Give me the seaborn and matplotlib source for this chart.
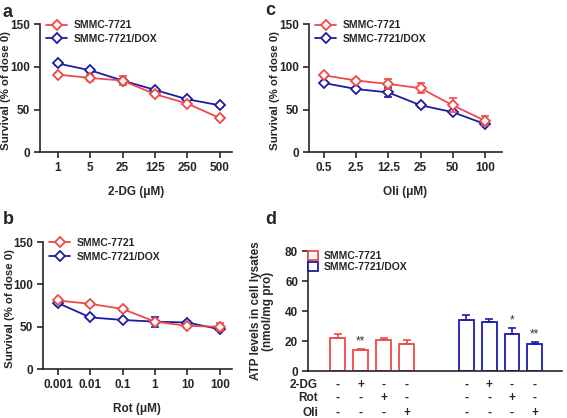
import numpy as np
import pandas as pd
import seaborn as sns
import matplotlib.pyplot as plt

sns.set_style('ticks')
plt.rcParams['font.family'] = ['Liberation Sans', 'DejaVu Sans']
plt.rcParams['font.weight'] = 'bold'
plt.rcParams['axes.linewidth'] = 1.2

RED = '#EE4A4A'
BLUE = '#1C1CA6'
series_names = ['SMMC-7721', 'SMMC-7721/DOX']

# panel a: 2-DG
dg_doses = ['1', '5', '25', '125', '250', '500']
dg_red = [91, 87, 84, 68, 57, 40]
dg_red_err = [2, 4, 5, 2, 2, 2]
dg_blue = [104, 96, 84, 73, 62, 55]
dg_blue_err = [1.5, 1.5, 2, 1.5, 1.5, 1.5]

# panel b: rotenone
rot_doses = ['0.001', '0.01', '0.1', '1', '10', '100']
rot_red = [81, 77, 71, 56, 51, 50]
rot_red_err = [2, 2, 2, 2, 2, 5]
rot_blue = [78, 61, 58, 56, 55, 47]
rot_blue_err = [2, 1.5, 1.5, 6, 2, 2]

# panel c: oligomycin
oli_doses = ['0.5', '2.5', '12.5', '25', '50', '100']
oli_red = [90, 84, 80, 75, 55, 37]
oli_red_err = [2, 2, 6, 6, 8, 5]
oli_blue = [81, 74, 70, 55, 47, 33]
oli_blue_err = [1.5, 1.5, 5, 1.5, 1.5, 1.5]

# panel d: ATP
atp_red = [22, 14, 21, 18]
atp_red_err = [2.5, 0.5, 0.7, 2.5]
atp_blue = [34, 33, 25, 18]
atp_blue_err = [3.5, 2, 4, 1.5]
atp_red_pos = [0, 1, 2, 3]
atp_blue_pos = [5.6, 6.6, 7.6, 8.6]
atp_stars_red = ['', '**', '', '']
atp_stars_blue = ['', '', '*', '**']
treat_rows = ['2-DG', 'Rot', 'Oli']
treat_signs = [['-', '+', '-', '-'], ['-', '-', '+', '-'], ['-', '-', '-', '+']]

fig = plt.figure(figsize=(5.67, 4.18), dpi=100)


def dose_panel(rect, doses, red, red_err, blue, blue_err, xlabel, xlim):
    ax = fig.add_axes(rect)
    idx = np.arange(len(doses))
    for vals, errs, col, name, z in [(red, red_err, RED, series_names[0], 3),
                                     (blue, blue_err, BLUE, series_names[1], 2)]:
        ax.errorbar(idx, vals, yerr=errs, fmt='none', ecolor=col, elinewidth=1.2,
                    capsize=3, capthick=1.2, zorder=z)
        sns.lineplot(x=idx, y=vals, ax=ax, color=col, marker='D', markersize=5.5,
                     markerfacecolor='white', markeredgecolor=col, markeredgewidth=1.3,
                     linewidth=1.3, label=name, zorder=z)
    ax.set_xticks(idx)
    ax.set_xticklabels(doses)
    ax.set_xlim(*xlim)
    ax.set_ylim(0, 150)
    ax.set_yticks([0, 50, 100, 150])
    ax.tick_params(labelsize=8.5, width=1.2, length=4, pad=3)
    ax.set_xlabel(xlabel, fontsize=8.5, fontweight='bold', labelpad=9)
    ax.set_ylabel('Survival (% of dose 0)', fontsize=8.2, fontweight='bold')
    ax.yaxis.set_label_coords(-0.15, 0.48)
    sns.despine(ax=ax)
    ax.legend(loc='upper left', bbox_to_anchor=(0.0, 1.08), frameon=False,
              handlelength=2.0, handletextpad=0.6, labelspacing=0.35, borderaxespad=0.2,
              prop={'weight': 'bold', 'size': 7.5})
    return ax


dose_panel([0.0705, 0.636, 0.338, 0.306], dg_doses, dg_red, dg_red_err, dg_blue,
           dg_blue_err, '2-DG (μM)', (-0.55, 5.37))
dose_panel([0.0758, 0.117, 0.333, 0.304], rot_doses, rot_red, rot_red_err, rot_blue,
           rot_blue_err, 'Rot (μM)', (-0.46, 5.37))
dose_panel([0.545, 0.636, 0.340, 0.306], oli_doses, oli_red, oli_red_err, oli_blue,
           oli_blue_err, 'Oli (μM)', (-0.47, 5.53))

# panel d
axd = fig.add_axes([0.543, 0.1124, 0.448, 0.2871])
bar_df = pd.DataFrame({
    'pos': atp_red_pos + atp_blue_pos,
    'atp': atp_red + atp_blue,
    'line': [series_names[0]] * 4 + [series_names[1]] * 4,
})
sns.barplot(data=bar_df, x='pos', y='atp', hue='line', palette=[RED, BLUE],
            native_scale=True, fill=False, width=0.65, errorbar=None, ax=axd,
            linewidth=1.3, dodge=False)
for pos, vals, errs, col, stars in [(atp_red_pos, atp_red, atp_red_err, RED, atp_stars_red),
                                    (atp_blue_pos, atp_blue, atp_blue_err, BLUE, atp_stars_blue)]:
    axd.errorbar(pos, vals, yerr=[np.zeros(len(errs)), errs], fmt='none', ecolor=col,
                 elinewidth=1.2, capsize=3, capthick=1.2)
    for p, v, e, s in zip(pos, vals, errs, stars):
        if s:
            axd.text(p, v + e + 1.0, s, ha='center', va='bottom', fontsize=8.5,
                     color='#333333', fontweight='normal')
axd.set_xlim(-1.31, 9.78)
axd.set_ylim(0, 80)
axd.set_yticks([0, 20, 40, 60, 80])
axd.set_xticks([])
axd.set_xlabel('')
axd.tick_params(labelsize=8.5, width=1.2, length=4, pad=3)
axd.set_ylabel('ATP levels in cell lysates\n(nmol/mg pro)', fontsize=8.5,
               fontweight='bold', linespacing=1.0)
axd.yaxis.set_label_coords(-0.135, 0.5)
sns.despine(ax=axd)
leg = axd.legend(loc='upper left', bbox_to_anchor=(-0.025, 1.05), frameon=False,
                 handlelength=1.0, handleheight=0.9, handletextpad=0.5,
                 labelspacing=0.1, borderaxespad=0.2, prop={'weight': 'bold', 'size': 7.5})
for h, col in zip(leg.legend_handles, [RED, BLUE]):
    h.set_facecolor('white')
    h.set_edgecolor(col)

all_pos = atp_red_pos + atp_blue_pos
row_y = [-9, -18, -28]
for name, signs, ry in zip(treat_rows, treat_signs, row_y):
    axd.text(-0.87, ry, name, ha='right', va='center', fontsize=8.5, fontweight='bold',
             clip_on=False)
    for p, s in zip(all_pos, signs + signs):
        axd.text(p, ry, s, ha='center', va='center', fontsize=8.5, fontweight='bold',
                 clip_on=False)

for letter, x, y in [('a', 0.005, 0.97), ('c', 0.468, 0.975), ('b', 0.005, 0.476),
                     ('d', 0.468, 0.476)]:
    fig.text(x, y, letter, fontsize=13, fontweight='bold', ha='left', va='center')

fig.savefig('out.png', dpi=100)
